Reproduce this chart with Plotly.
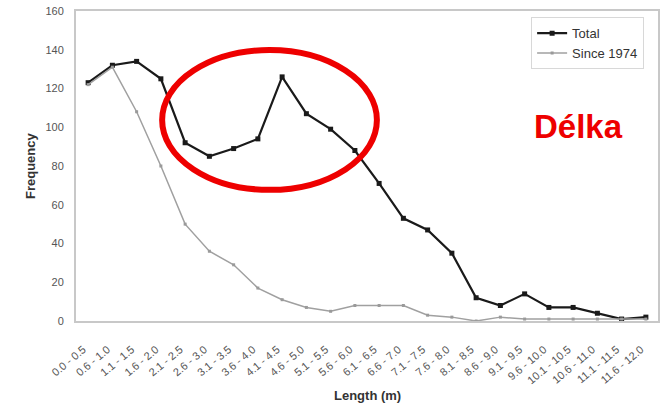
import plotly.graph_objects as go

# Length classes (m)
categories = [
    "0.0 - 0.5", "0.6 - 1.0", "1.1 - 1.5", "1.6 - 2.0", "2.1 - 2.5", "2.6 - 3.0",
    "3.1 - 3.5", "3.6 - 4.0", "4.1 - 4.5", "4.6 - 5.0", "5.1 - 5.5", "5.6 - 6.0",
    "6.1 - 6.5", "6.6 - 7.0", "7.1 - 7.5", "7.6 - 8.0", "8.1 - 8.5", "8.6 - 9.0",
    "9.1 - 9.5", "9.6 - 10.0", "10.1 - 10.5", "10.6 - 11.0", "11.1 - 11.5", "11.6 - 12.0",
]

total = [123, 132, 134, 125, 92, 85, 89, 94, 126, 107, 99, 88,
         71, 53, 47, 35, 12, 8, 14, 7, 7, 4, 1, 2]

since_1974 = [122, 131, 108, 80, 50, 36, 29, 17, 11, 7, 5, 8,
              8, 8, 3, 2, 0, 2, 1, 1, 1, 1, 1, 1]

y_ticks = [0, 20, 40, 60, 80, 100, 120, 140, 160]

font_family = "Liberation Sans, Arial, sans-serif"

fig = go.Figure()

fig.add_trace(go.Scatter(
    x=categories, y=total, name="Total", mode="lines+markers",
    line=dict(color="#1a1a1a", width=2.2),
    marker=dict(symbol="square", size=5, color="#1a1a1a"),
))

fig.add_trace(go.Scatter(
    x=categories, y=since_1974, name="Since 1974", mode="lines+markers",
    line=dict(color="#a0a0a0", width=1.5),
    marker=dict(symbol="square", size=3, color="#9a9a9a"),
))

fig.update_layout(
    width=661, height=408,
    margin=dict(l=76, r=3, t=11, b=87, autoexpand=False),
    paper_bgcolor="white", plot_bgcolor="white",
    font=dict(family=font_family, size=10, color="#444444"),
    showlegend=True,
    legend=dict(
        x=0.782, y=0.98, xanchor="left", yanchor="top",
        bgcolor="white", bordercolor="#d8d8d8", borderwidth=1,
        font=dict(size=13, color="#333333"),
        tracegroupgap=0, itemwidth=30,
    ),
    xaxis=dict(
        type="category", categoryorder="array", categoryarray=categories,
        range=[-0.5, len(categories) - 0.5],
        tickangle=-40, showgrid=False, zeroline=False, automargin=False,
        showline=True, linecolor="#c8c8c8", linewidth=2, mirror=True,
        ticks="", tickfont=dict(size=11, color="#555555"),
        ticklabelstandoff=16, ticklabelshift=-5,
    ),
    yaxis=dict(
        range=[0, 160], tickvals=y_ticks, showgrid=False, zeroline=False,
        automargin=False,
        showline=True, linecolor="#c8c8c8", linewidth=2, mirror=True,
        ticks="", tickfont=dict(size=11, color="#555555"), ticklabelstandoff=8,
    ),
    shapes=[
        dict(type="circle", xref="paper", yref="paper",
             x0=0.148, x1=0.517, y0=0.423, y1=0.874,
             line=dict(color="#ee0000", width=6)),
    ],
    annotations=[
        dict(text="<b>Délka</b>", xref="paper", yref="paper", x=0.863, y=0.626,
             showarrow=False, font=dict(family=font_family, size=33, color="#ee0000"),
             xanchor="center", yanchor="middle"),
        dict(text="<b>Length (m)</b>", xref="paper", yref="paper", x=0.5, y=-0.24,
             showarrow=False, font=dict(size=13, color="#333333"),
             xanchor="center", yanchor="middle"),
        dict(text="<b>Frequency</b>", xref="paper", yref="paper", x=-0.079, y=0.5,
             showarrow=False, textangle=-90, font=dict(size=13, color="#333333"),
             xanchor="center", yanchor="middle"),
    ],
)

fig.write_html("out.html")
